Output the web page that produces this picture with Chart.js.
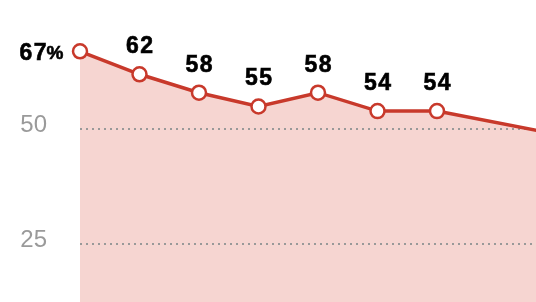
<!DOCTYPE html>
<html>
<head>
<meta charset="utf-8">
<script src="https://cdn.jsdelivr.net/npm/chart.js@4/dist/chart.umd.min.js"></script>
<style>
html,body{margin:0;padding:0;background:#fff;overflow:hidden;}
#wrap{width:536px;height:302px;position:relative;}
</style>
</head>
<body>
<div id="wrap"><canvas id="c" width="536" height="302"></canvas></div>
<script>
// Data
const positions = [0, 1, 2, 3, 4, 5, 6, 8];
const values = [67, 62, 58, 55, 58, 54, 54, 49];
const pointLabels = ['67', '62', '58', '55', '58', '54', '54', ''];
const tickValues = [25, 50];
const tickLabels = ['25', '50'];

const RED = '#c8392b';
const FILL = '#f6d5d1';
const FONT = '"Liberation Sans", Arial, sans-serif';

const labelPlugin = {
  id: 'pointLabels',
  afterDatasetsDraw(chart) {
    const ctx = chart.ctx;
    const meta = chart.getDatasetMeta(0);
    ctx.save();
    ctx.fillStyle = '#000';
    ctx.strokeStyle = '#000';
    ctx.lineWidth = 0.6;
    ctx.textBaseline = 'middle';
    try { ctx.letterSpacing = '1.5px'; } catch (e) {}
    const draw = (t, x, y) => { ctx.fillText(t, x, y); ctx.strokeText(t, x, y); };
    meta.data.forEach((pt, i) => {
      const t = pointLabels[i];
      if (!t) return;
      if (i === 0) {
        ctx.textAlign = 'right';
        ctx.font = 'bold 19px ' + FONT;
        const right = pt.x - 15;
        const pctW = ctx.measureText('%').width;
        draw('%', right, pt.y + 2);
        ctx.font = 'bold 23px ' + FONT;
        draw(t, right - pctW + 1.5, pt.y + 2);
      } else {
        ctx.textAlign = 'center';
        ctx.font = 'bold 23px ' + FONT;
        draw(t, pt.x + 0.75, pt.y - 27.5);
      }
    });
    ctx.restore();
  }
};

new Chart(document.getElementById('c'), {
  type: 'line',
  data: {
    datasets: [{
      data: positions.map((x, i) => ({x: x, y: values[i]})),
      borderColor: RED,
      borderWidth: 3.5,
      backgroundColor: FILL,
      fill: 'start',
      tension: 0,
      pointRadius: positions.map((x, i) => i < 7 ? 7 : 0),
      pointHoverRadius: 7,
      pointBackgroundColor: '#fff',
      pointBorderColor: RED,
      pointBorderWidth: 2.5,
      clip: {left: 10, top: 10, right: 0, bottom: 0}
    }]
  },
  options: {
    responsive: false,
    animation: false,
    events: [],
    layout: {padding: 0, autoPadding: false},
    plugins: {
      legend: {display: false},
      tooltip: {enabled: false},
      filler: {drawTime: 'beforeDraw'}
    },
    scales: {
      x: {
        type: 'linear',
        display: false,
        min: 0,
        max: 7.664
      },
      y: {
        min: 12.5,
        max: 78.15,
        afterFit: s => {
          s.width = 80;
          s.paddingTop = 0; s.paddingBottom = 0;
          s.paddingLeft = 0; s.paddingRight = 0;
        },
        afterBuildTicks: s => { s.ticks = tickValues.map(v => ({value: v})); },
        border: {display: false, dash: [2, 4]},
        grid: {
          drawTicks: false,
          color: '#999',
          lineWidth: 2
        },
        ticks: {
          padding: 33,
          labelOffset: -4,
          color: '#9a9a9a',
          font: {family: FONT, size: 24},
          callback: (v) => {
            const i = tickValues.indexOf(v);
            return i >= 0 ? tickLabels[i] : '';
          }
        }
      }
    }
  },
  plugins: [labelPlugin]
});
</script>
</body>
</html>
